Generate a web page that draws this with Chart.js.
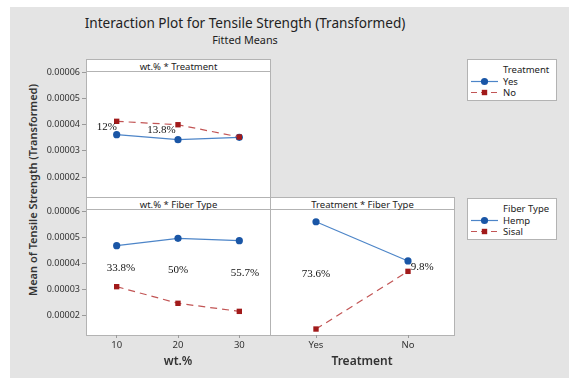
<!DOCTYPE html>
<html>
<head>
<meta charset="utf-8">
<script src="https://cdn.jsdelivr.net/npm/chart.js@4/dist/chart.umd.min.js"></script>
<style>
  html, body { margin: 0; padding: 0; background: #ffffff; }
  body { width: 573px; height: 378px; position: relative; overflow: hidden; font-family: "Noto Sans", sans-serif; color: #222; }
  .abs { position: absolute; }
  #backdrop { left: 10px; top: 7px; width: 559px; height: 371px; background: #e4e4e4; }
  .frame { box-sizing: border-box; border: 1px solid #b3b3b3; background: #ffffff; }
  .strip { box-sizing: border-box; border-bottom: 1px solid #b3b3b3; left: 0; top: 0; right: 0; height: 12px;
           font-size: 9.5px; line-height: 14px; text-align: center; white-space: nowrap; color: #222; }
  .legend { box-sizing: border-box; border: 1px solid #b3b3b3; background: #ffffff; width: 90px; height: 42px; font-size: 9.5px; }
  .legend .row { position: absolute; left: 3px; height: 11px; line-height: 11px; white-space: nowrap; }
  .legend .row span { position: absolute; left: 32px; top: 0; }
  .legend .row svg { position: absolute; left: 0; top: 0; }
  #title { left: 0; width: 490px; top: 14px; text-align: center; font-size: 13.6px; line-height: 18px; white-space: nowrap; color: #222; }
  #subtitle { left: 0; width: 490px; top: 33px; text-align: center; font-size: 10.8px; line-height: 14px; white-space: nowrap; color: #222; }
  #ytitle { left: 32px; top: 190px; transform: translate(-50%, -50%) rotate(-90deg); font-size: 11px; font-weight: 600; white-space: nowrap; color: #333; }
  canvas { position: absolute; }
</style>
</head>
<body>
<div id="backdrop" class="abs"></div>
<div id="title" class="abs">Interaction Plot for Tensile Strength (Transformed)</div>
<div id="subtitle" class="abs">Fitted Means</div>
<div id="ytitle" class="abs">Mean of Tensile Strength (Transformed)</div>

<div class="abs frame" style="left:86px; top:59px; width:185px; height:139px;">
  <div class="abs strip">wt.% * Treatment</div>
</div>
<div class="abs frame" style="left:86px; top:197px; width:185px; height:139px;">
  <div class="abs strip">wt.% * Fiber Type</div>
</div>
<div class="abs frame" style="left:270px; top:197px; width:185px; height:139px;">
  <div class="abs strip">Treatment * Fiber Type</div>
</div>

<div class="abs legend" style="left:467px; top:59px;" id="legTreat"></div>
<div class="abs legend" style="left:467px; top:198px;" id="legFiber"></div>

<canvas id="cTL" width="249" height="147" style="left:26px; top:60px;"></canvas>
<canvas id="cBL" width="249" height="170" style="left:26px; top:199px;"></canvas>
<canvas id="cBR" width="194" height="170" style="left:265px; top:199px;"></canvas>

<script>
// Factor levels
const wtLevels = ['10', '20', '30'];
const treatmentLevels = ['Yes', 'No'];
const fiberLevels = ['Hemp', 'Sisal'];

// Fitted means (transformed tensile strength)
const wtTreatYes = [3.62e-5, 3.43e-5, 3.52e-5];
const wtTreatNo = [4.13e-5, 4.00e-5, 3.53e-5];
const wtFiberHemp = [4.68e-5, 4.96e-5, 4.87e-5];
const wtFiberSisal = [3.10e-5, 2.46e-5, 2.15e-5];
const treatFiberHemp = [5.60e-5, 4.09e-5];
const treatFiberSisal = [1.47e-5, 3.69e-5];

// Shared y axis
const yTicks = [2e-5, 3e-5, 4e-5, 5e-5, 6e-5];
const yMin = 1.24e-5;
const yMax = 6.09e-5;

// Percentage notes placed beside the points (category position, value)
const notesWtTreat = [
  { text: '12%', at: -0.16, value: 3.90e-5 },
  { text: '13.8%', at: 0.73, value: 3.81e-5 }
];
const notesWtFiber = [
  { text: '33.8%', at: 0.07, value: 3.81e-5 },
  { text: '50%', at: 1.0, value: 3.74e-5 },
  { text: '55.7%', at: 2.09, value: 3.62e-5 }
];
const notesTreatFiber = [
  { text: '73.6%', at: 0.0, value: 3.59e-5 },
  { text: '9.8%', at: 1.155, value: 3.85e-5 }
];

const BLUE_LINE = '#4d85c8';
const BLUE_MARK = '#1a56a6';
const RED_LINE = '#c25555';
const RED_MARK = '#a11a1a';
const TICK_COLOR = '#9a9a9a';
const FONT = '"Noto Sans", sans-serif';

function solidSeries(label, data) {
  return {
    label, data, order: 2,
    borderColor: BLUE_LINE, borderWidth: 1.2,
    pointStyle: 'circle', pointRadius: 3.6,
    pointBackgroundColor: BLUE_MARK, pointBorderColor: BLUE_MARK, pointBorderWidth: 0
  };
}
function dashedSeries(label, data) {
  return {
    label, data, order: 1,
    borderColor: RED_LINE, borderWidth: 1.2, borderDash: [7, 5],
    pointStyle: 'rect', pointRadius: 3.8,
    pointBackgroundColor: RED_MARK, pointBorderColor: RED_MARK, pointBorderWidth: 0
  };
}

const notesPlugin = {
  id: 'notes',
  afterDatasetsDraw(chart, args, opts) {
    const { ctx, scales } = chart;
    ctx.save();
    ctx.font = '11px "Liberation Serif", serif';
    ctx.fillStyle = '#111';
    ctx.textAlign = 'center';
    ctx.textBaseline = 'middle';
    (opts.items || []).forEach(n => {
      ctx.fillText(n.text, scales.x.getPixelForValue(n.at), scales.y.getPixelForValue(n.value));
    });
    ctx.restore();
  }
};

function makePanel(id, labels, datasets, notes, cfg) {
  const tickGrid = { display: true, drawOnChartArea: false, drawTicks: true, color: TICK_COLOR };
  return new Chart(document.getElementById(id), {
    type: 'line',
    data: { labels, datasets },
    plugins: [notesPlugin],
    options: {
      responsive: false,
      animation: false,
      events: [],
      layout: { padding: cfg.padding },
      plugins: { legend: { display: false }, tooltip: { enabled: false }, notes: { items: notes } },
      scales: {
        x: {
          type: 'category', offset: true, display: cfg.showX,
          grid: Object.assign({ tickLength: 3 }, tickGrid),
          border: { display: false },
          ticks: { font: { family: FONT, size: 9.5 }, color: '#333', padding: 2, maxRotation: 0 },
          title: { display: !!cfg.xTitle, text: cfg.xTitle || '', color: '#333', padding: 0,
                   font: { family: FONT, size: 12, weight: '600' } },
          afterFit(s) { if (cfg.showX) s.height = 34; }
        },
        y: {
          type: 'linear', min: yMin, max: yMax, display: cfg.showY,
          grid: Object.assign({ tickLength: 4 }, tickGrid),
          border: { display: false },
          afterBuildTicks(s) { s.ticks = yTicks.map(v => ({ value: v })); },
          ticks: { font: { family: FONT, size: 9 }, color: '#333', padding: 2,
                   callback: v => Number(v).toFixed(5) },
          afterFit(s) { if (cfg.showY) s.width = 60; }
        }
      }
    }
  });
}

makePanel('cTL', wtLevels,
  [solidSeries('Yes', wtTreatYes), dashedSeries('No', wtTreatNo)],
  notesWtTreat,
  { showX: false, showY: true, padding: { left: 0, top: 10, right: 5, bottom: 10 } });

makePanel('cBL', wtLevels,
  [solidSeries('Hemp', wtFiberHemp), dashedSeries('Sisal', wtFiberSisal)],
  notesWtFiber,
  { showX: true, showY: true, xTitle: 'wt.%', padding: { left: 0, top: 10, right: 5, bottom: 0 } });

makePanel('cBR', treatmentLevels,
  [solidSeries('Hemp', treatFiberHemp), dashedSeries('Sisal', treatFiberSisal)],
  notesTreatFiber,
  { showX: true, showY: false, xTitle: 'Treatment', padding: { left: 5, top: 10, right: 5, bottom: 0 } });

// Legend boxes
function legendSymbol(solid) {
  const c = solid ? BLUE_LINE : RED_LINE;
  const m = solid ? BLUE_MARK : RED_MARK;
  const line = solid
    ? `<line x1="0" y1="5.5" x2="27" y2="5.5" stroke="${c}" stroke-width="1.2"/>`
    : `<line x1="0" y1="5.5" x2="27" y2="5.5" stroke="${c}" stroke-width="1.2" stroke-dasharray="6,4"/>`;
  const mark = solid
    ? `<circle cx="13.5" cy="5.5" r="3.6" fill="${m}"/>`
    : `<rect x="10.8" y="2.8" width="5.4" height="5.4" fill="${m}"/>`;
  return `<svg width="28" height="11">${line}${mark}</svg>`;
}
function buildLegend(id, title, names) {
  const el = document.getElementById(id);
  let html = `<div class="row" style="top:4px;"><span>${title}</span></div>`;
  names.forEach((n, i) => {
    html += `<div class="row" style="top:${16 + i * 11}px;">${legendSymbol(i === 0)}<span>${n}</span></div>`;
  });
  el.innerHTML = html;
}
buildLegend('legTreat', 'Treatment', treatmentLevels);
buildLegend('legFiber', 'Fiber Type', fiberLevels);
</script>
</body>
</html>
